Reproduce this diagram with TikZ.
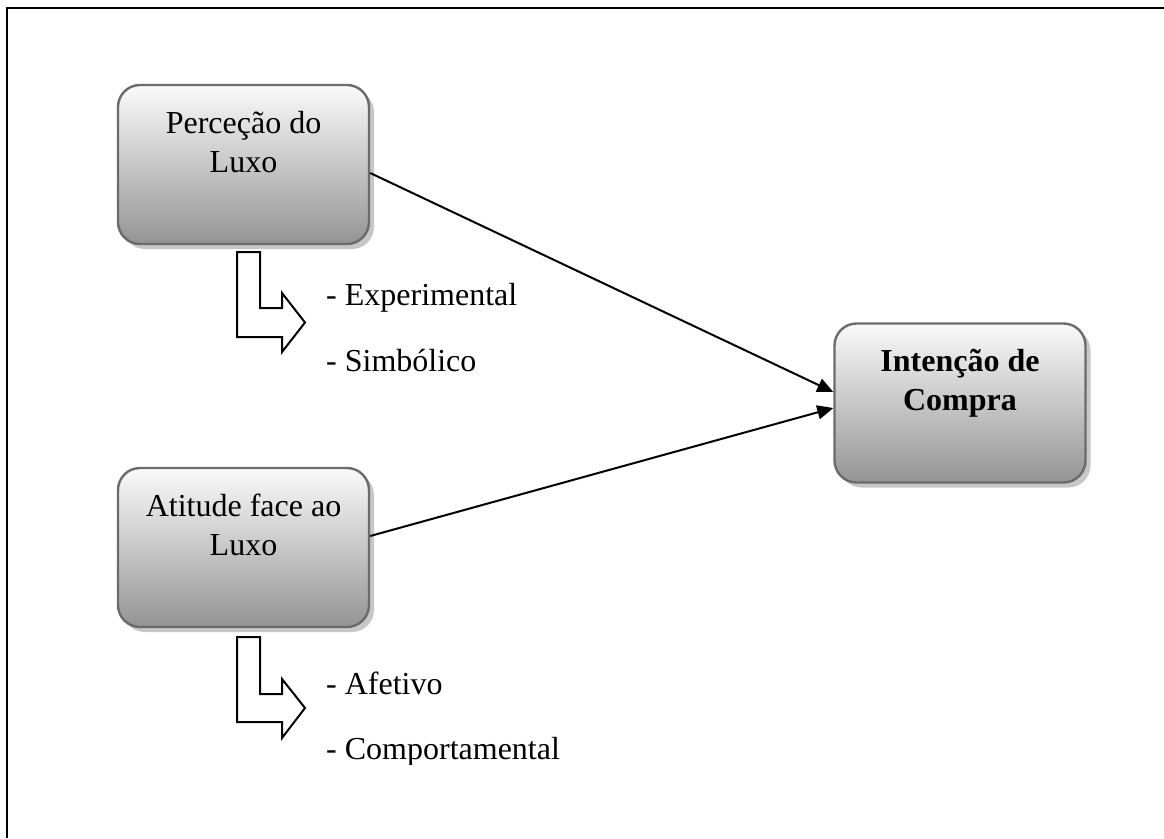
\documentclass[tikz,border=0pt]{standalone}
\usepackage{fontspec}
\setmainfont{Liberation Serif}
\usetikzlibrary{arrows.meta,shadows}

\tikzset{
  conceptbox/.style={
    draw=black!58, line width=2.4pt, rounded corners=22pt,
    top color=black!2, bottom color=black!42,
    minimum width=251pt, minimum height=159pt, inner sep=0pt,
    drop shadow={shadow xshift=5pt, shadow yshift=-5pt, fill=black!22, opacity=1}
  },
  boxtext/.style={anchor=base, inner sep=0pt, font=\fontsize{32}{39}\selectfont},
  boldtext/.style={boxtext, font=\fontsize{32}{39}\selectfont\bfseries},
  itemtext/.style={anchor=base west, inner sep=0pt, font=\fontsize{32}{39}\selectfont},
  link/.style={line width=2pt, -{Triangle[length=16pt,width=14pt]}},
  bentarrow/.style={draw=black, line width=2pt, fill=white, line join=miter}
}

\begin{document}
\begin{tikzpicture}[x=1pt, y=-1pt]
  \useasboundingbox (0,0) rectangle (1164,838);

  % page frame: left and top rules
  \draw[line width=2.4pt] (7,838) -- (7,8) -- (1164,8);

  % the three concept boxes
  \node[conceptbox] (b1) at (243.5,164.5) {};
  \node[conceptbox] (b2) at (243.5,547.5) {};
  \node[conceptbox] (b3) at (960,403) {};

  \node[boxtext] (b1l1) at (243.5,133) {Perceção do};
  \node[boxtext] (b1l2) at (243.5,172) {Luxo};
  \node[boxtext] (b2l1) at (243.5,516) {Atitude face ao};
  \node[boxtext] (b2l2) at (243.5,555) {Luxo};
  \node[boldtext] (b3l1) at (960,371) {Intenção de};
  \node[boldtext] (b3l2) at (960,410) {Compra};

  % links into the purchase-intention box
  \draw[link] ([yshift=-8.5pt]b1.east) -- ([yshift=11pt]b3.west);
  \draw[link] ([yshift=11.5pt]b2.east) -- ([yshift=-5pt]b3.west);

  % bent block arrows listing the dimensions
  \draw[bentarrow] (237,252) -- (260,252) -- (260,308) -- (282,308) -- (282,293)
    -- (305,322.5) -- (282,352) -- (282,337) -- (237,337) -- cycle;
  \draw[bentarrow] (237,637) -- (260,637) -- (260,694) -- (282,694) -- (282,679)
    -- (305,708) -- (282,738) -- (282,722) -- (237,722) -- cycle;

  \node[itemtext] (d1) at (326,305) {- Experimental};
  \node[itemtext] (d2) at (326,371) {- Simbólico};
  \node[itemtext] (d3) at (326,694) {- Afetivo};
  \begin{scope}
    \clip (300,700) rectangle (700,764);
    \node[itemtext] (d4) at (326,759) {- Comportamental};
  \end{scope}
\end{tikzpicture}
\end{document}
